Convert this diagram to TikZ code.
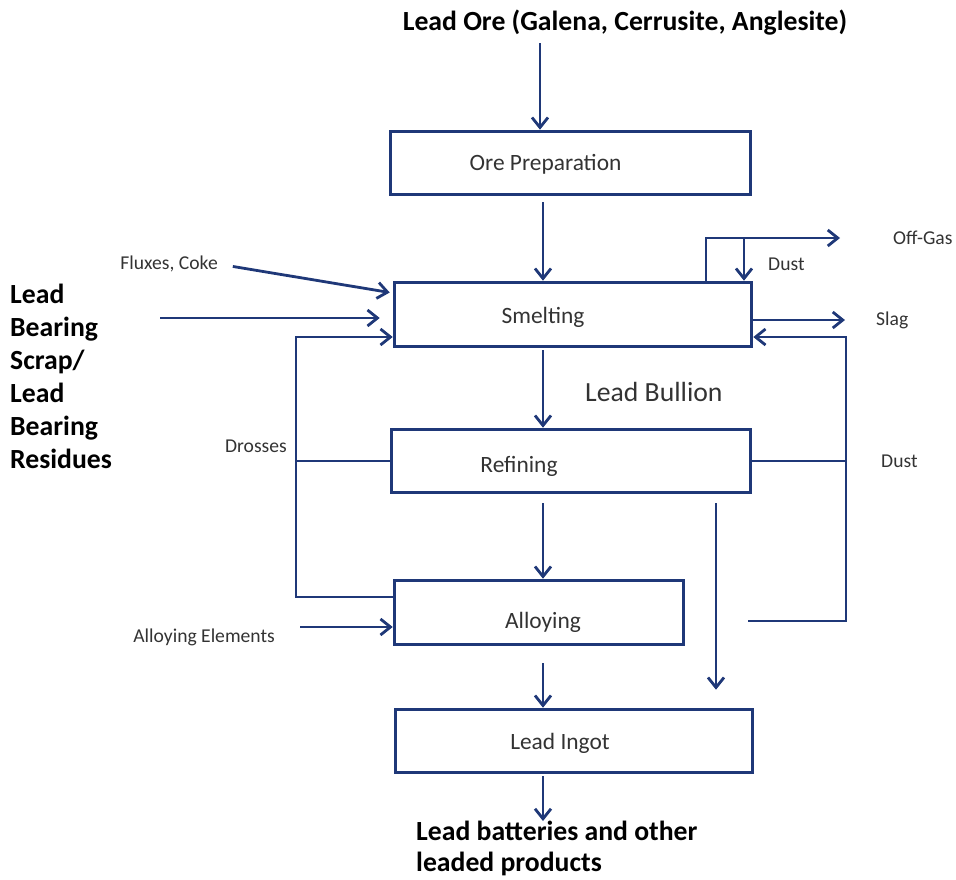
\documentclass[tikz,border=0pt]{standalone}
\usepackage{fontspec}
\setmainfont{Carlito}
\usetikzlibrary{arrows.meta}
\definecolor{flowcol}{RGB}{31,56,120}
\colorlet{txtcol}{black!80}
\tikzstyle{box}=[draw=flowcol,line width=3.6pt,inner sep=0]
\tikzstyle{flow}=[flowcol,line width=2.8pt,-{Straight Barb[length=10pt,width=16pt]}]
\tikzstyle{link}=[flowcol,line width=2.8pt]
\tikzstyle{boxtext}=[txtcol,font=\fontsize{23.4}{28}\selectfont]
\tikzstyle{lbl}=[txtcol,font=\fontsize{19.6}{24}\selectfont]
\tikzstyle{headtxt}=[black,font=\fontsize{27.7}{33}\selectfont\bfseries]

\begin{document}
\begin{tikzpicture}[x=1pt,y=-1pt]
  \useasboundingbox (0,0) rectangle (956,879);
  \coordinate (axis) at (543,0);
  \coordinate (axin) at (540,0);

  % BOXES
  \node[box,minimum width=360,minimum height=63] (prep) at (570.5,163) {};
  \node[box,minimum width=357,minimum height=64] (smelt) at (573,314.5) {};
  \node[box,minimum width=359,minimum height=63] (refine) at (571,461) {};
  \node[box,minimum width=289,minimum height=64] (alloy) at (539,612.5) {};
  \node[box,minimum width=357,minimum height=63] (ingot) at (574,741) {};

  \node[boxtext] (preptxt) at (545.5,164) {Ore Preparation};
  \node[boxtext] (smelttxt) at (543,317) {Smelting};
  \node[boxtext] (refinetxt) at (519,466) {Refining};
  \node[boxtext] (alloytxt) at (543,622) {Alloying};
  \node[boxtext] (ingottxt) at (560,743) {Lead Ingot};

  % TEXTS
  \node[headtxt] (ore) at (625,23) {Lead Ore (Galena, Cerrusite, Anglesite)};
  \node[headtxt,align=left,anchor=west,inner sep=0] (scrap) at (10,376)
    {Lead\\Bearing\\Scrap/\\Lead\\Bearing\\Residues};
  \node[headtxt,font=\fontsize{27.7}{31}\selectfont\bfseries,align=left,anchor=north west,inner sep=0] (prod) at (416,821)
    {Lead batteries and other\\leaded products};
  \node[headtxt,font=\fontsize{27.7}{33}\selectfont,txtcol,anchor=west,inner sep=0] (bullion) at (585,392) {Lead Bullion};
  \node[lbl,anchor=east,inner sep=0] (flux) at (218,264) {Fluxes, Coke};
  \node[lbl,anchor=east,inner sep=0] (dross) at (287,446) {Drosses};
  \node[lbl,anchor=east,inner sep=0] (alelem) at (275,637) {Alloying Elements};
  \node[lbl,anchor=west,inner sep=0] (offgas) at (893,238) {Off-Gas};
  \node[lbl,anchor=west,inner sep=0] (dustA) at (768,264) {Dust};
  \node[lbl,anchor=west,inner sep=0] (slag) at (876,320) {Slag};
  \node[lbl,anchor=west,inner sep=0] (dustB) at (881,461) {Dust};

  % MAIN LINE
  \draw[flow,shorten <=4pt] (ore.south -| axin) -- (prep.north -| axin);
  \draw[flow,shorten <=6pt] (prep.south -| axis) -- (smelt.north -| axis);
  \draw[flow,shorten <=2pt] (smelt.south -| axis) -- (refine.north -| axis);
  \draw[flow,shorten <=9pt] (refine.south -| axis) -- (alloy.north -| axis);
  \draw[flow,shorten <=17pt] (alloy.south -| axis) -- (ingot.north -| axis);
  \draw[flow,shorten <=2pt] (ingot.south -| axis) -- (prod.north -| axis);

  % BYPASS
  \coordinate (bpx) at (716,0);
  \draw[flow,shorten <=9pt,shorten >=18pt] (refine.south -| bpx) -- (ingot.north -| bpx);

  % OFF-GAS, DUST, SLAG
  \coordinate (ogx) at (706,0);
  \coordinate (dx) at (744,0);
  \draw[flow,shorten >=53pt] (smelt.north -| ogx) |- (offgas.west);
  \draw[flow] (dx |- offgas.west) -- (smelt.north -| dx);
  \draw[flow,shorten >=31pt] (smelt.east |- slag.west) -- (slag.west);

  % DUST RETURN
  \coordinate (rx) at (846,0);
  \coordinate (retin) at ([yshift=-22.5pt]smelt.east);
  \coordinate (dstart) at (748,621);
  \draw[flow] (dstart) -| (rx |- retin) -- (retin);
  \draw[link,line width=2.4pt] (refine.east) -- (rx |- refine.east);

  % DROSSES
  \coordinate (dlx) at (296,0);
  \coordinate (drin) at ([yshift=-22.5pt]smelt.west);
  \coordinate (alinA) at ([yshift=15.5pt]alloy.west);
  \draw[flow] (alinA) -| (dlx |- drin) -- (drin);
  \draw[link,line width=2.4pt] (refine.west) -- (dlx |- refine.west);

  % INPUTS
  \coordinate (scrin) at ([yshift=-3.5pt]smelt.west);
  \coordinate (alinB) at ([yshift=-14.5pt]alloy.west);
  \draw[flow,shorten <=15pt,shorten >=3pt] (flux.east) -- ([yshift=21.5pt]smelt.west);
  \draw[flow,shorten <=48pt,shorten >=13pt] (scrap.east |- scrin) -- (scrin);
  \draw[flow,shorten <=25pt] (alelem.east |- alinB) -- (alinB);

\end{tikzpicture}
\end{document}
